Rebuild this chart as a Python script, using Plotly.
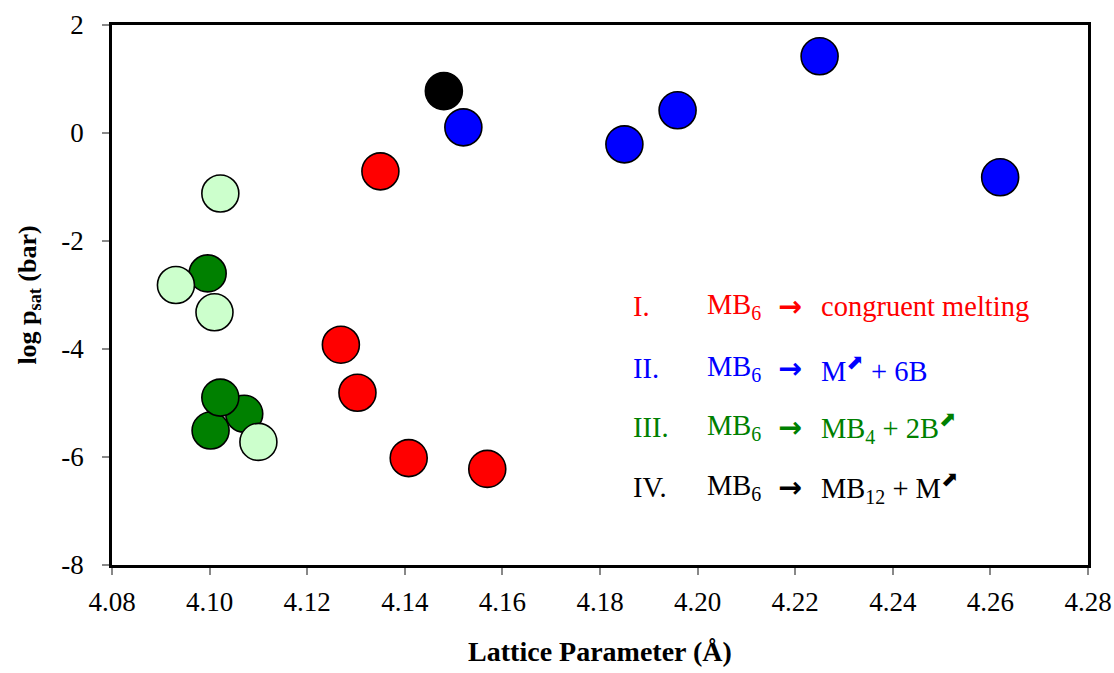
import plotly.graph_objects as go

# Data
red_x = [4.135, 4.1269, 4.1303, 4.1408, 4.1569]
red_y = [-0.71, -3.92, -4.81, -6.02, -6.22]
blue_x = [4.225, 4.1959, 4.185, 4.152, 4.262]
blue_y = [1.42, 0.42, -0.21, 0.105, -0.82]
dkgreen_x = [4.0996, 4.1002, 4.1071, 4.1022]
dkgreen_y = [-2.6, -5.51, -5.2, -4.9]
ltgreen_x = [4.1022, 4.0931, 4.101, 4.110]
ltgreen_y = [-1.12, -2.815, -3.32, -5.72]
black_x = [4.148]
black_y = [0.776]

x_ticks = [4.08, 4.10, 4.12, 4.14, 4.16, 4.18, 4.20, 4.22, 4.24, 4.26, 4.28]
x_ticktext = ["4.08", "4.10", "4.12", "4.14", "4.16", "4.18", "4.20", "4.22", "4.24", "4.26", "4.28"]
y_ticks = [-8, -6, -4, -2, 0, 2]
y_ticktext = ["-8", "-6", "-4", "-2", "0", "2"]

FONT = "Liberation Serif"
MS = 37

fig = go.Figure()

def add(xs, ys, fill, name):
    fig.add_trace(go.Scatter(
        x=xs, y=ys, mode="markers", name=name,
        marker=dict(size=MS, color=fill, line=dict(color="black", width=1.6)),
        showlegend=False))

add(red_x, red_y, "#FF0000", "I")
add(black_x, black_y, "#000000", "IV")
add(blue_x, blue_y, "#0000FF", "II")
add(dkgreen_x, dkgreen_y, "#008000", "III")
add(ltgreen_x, ltgreen_y, "#CCFFCC", "III light")

TICKFONT = dict(family=FONT, size=27, color="black")

fig.update_layout(
    xaxis=dict(range=[4.08, 4.28], tickmode="array", tickvals=x_ticks, ticktext=x_ticktext,
               showgrid=False, zeroline=False, automargin=False,
               showline=True, linecolor="black", linewidth=2.5, mirror=True,
               ticks="outside", ticklen=7, tickcolor="#888888", tickwidth=1.5,
               ticklabelstandoff=4, tickfont=TICKFONT,
               title=dict(text="<b>Lattice Parameter (Å)</b>",
                          font=dict(family=FONT, size=28, color="black"),
                          standoff=26)),
    yaxis=dict(range=[-8, 2], tickmode="array", tickvals=y_ticks, ticktext=y_ticktext,
               showgrid=False, zeroline=False, automargin=False,
               showline=True, linecolor="black", linewidth=2.5, mirror=True,
               ticks="outside", ticklen=7, tickcolor="#888888", tickwidth=1.5,
               ticklabelstandoff=13, tickfont=TICKFONT,
               title=dict(text="<b>log p<sub>sat</sub> (bar)</b>",
                          font=dict(family=FONT, size=26, color="black"),
                          standoff=18)),
)

ARW = '<span style="font-family:DejaVu Sans;font-weight:bold">→</span>'
UP = '<sup><span style="font-family:DejaVu Sans;font-size:21px">⬈</span></sup>'

legend_rows = [
    ("I.", "MB<sub>6</sub>", "congruent melting", "#FF0000", -3.22),
    ("II.", "MB<sub>6</sub>", "M" + UP + " + 6B", "#0000FF", -4.36),
    ("III.", "MB<sub>6</sub>", "MB<sub>4</sub> + 2B" + UP, "#008000", -5.45),
    ("IV.", "MB<sub>6</sub>", "MB<sub>12</sub> + M" + UP, "#000000", -6.56),
]
col_x = [4.1863, 4.2016, 4.2160, 4.2248]
for num, lhs, rhs, col, yy in legend_rows:
    for txt, xx in zip([num, lhs, ARW, rhs], col_x):
        fig.add_annotation(x=xx, y=yy, xref="x", yref="y", text=txt,
                           showarrow=False, xanchor="left", yanchor="middle",
                           font=dict(family=FONT, size=28.5, color=col))

fig.update_layout(width=1114, height=673,
                  margin=dict(l=112, r=26, t=24.5, b=107.5),
                  plot_bgcolor="white", paper_bgcolor="white",
                  font=dict(family=FONT, size=24, color="black"))

fig.write_html("out.html")
